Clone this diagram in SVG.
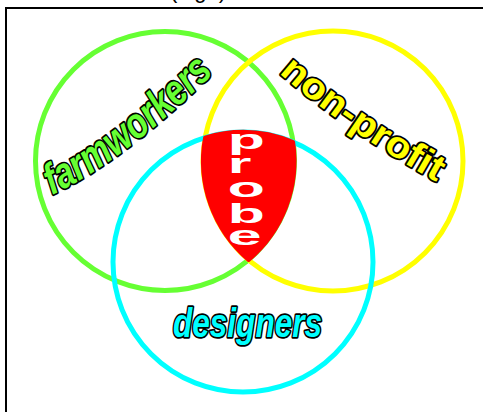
<svg xmlns="http://www.w3.org/2000/svg" width="483" height="412" viewBox="0 0 483 412">
<style>
.ring{fill:none;stroke-width:5}
.lbl{font-family:"Liberation Sans",Arial,sans-serif;font-weight:bold;stroke:#000;stroke-width:3.5;stroke-linejoin:round;paint-order:stroke fill}
.probe{font-family:"Liberation Sans",Arial,sans-serif;font-weight:bold;fill:#fff;font-size:27px}
</style>
<defs>
<path id="fwPath" d="M52,195 Q126,160 220,67"/>
<path id="npPath" d="M279,73 Q348,133 442,185"/>
</defs>
<rect width="483" height="412" fill="#fff"/>
<text x="198" y="-2" font-family="Liberation Sans, Arial, sans-serif" font-size="22" text-anchor="middle" fill="#000">(logo)</text>
<path d="M6,420V8H490" fill="none" stroke="#000" stroke-width="2"/>
<g id="farmworkers">
<circle class="ring" cx="165" cy="161" r="129.5" stroke="#66ff33"/>
</g>
<g id="non-profit">
<circle class="ring" cx="333" cy="161" r="130" stroke="#ffff00"/>
</g>
<g id="designers">
<circle class="ring" cx="243" cy="262" r="130" stroke="#00ffff"/>
</g>
<g id="labels">
<text class="lbl" fill="#66ff33" font-size="43" font-style="italic"><textPath href="#fwPath" textLength="204" lengthAdjust="spacingAndGlyphs">farmworkers</textPath></text>
<text class="lbl" fill="#ffff00" font-size="37"><textPath href="#npPath" textLength="192" lengthAdjust="spacingAndGlyphs">non-profit</textPath></text>
<text class="lbl" fill="#00ffff" font-size="40" font-style="italic" x="173" y="337" textLength="149" lengthAdjust="spacingAndGlyphs">designers</text>
</g>
<g id="probe">
<path d="M205.1,137.6 A130,130 0 0 1 293.1,142 A129.5,129.5 0 0 1 248.6,259.9 A130,130 0 0 1 205.1,137.6 Z" fill="#ff0000" stroke="#ff0000" stroke-width="4" stroke-linejoin="round"/>
<g transform="translate(227.7,0) scale(2.25,1)">
<text class="probe" x="0" y="149">p</text>
<text class="probe" x="0" y="173">r</text>
<text class="probe" x="0" y="197">o</text>
<text class="probe" x="0" y="223">b</text>
<text class="probe" x="0" y="245">e</text>
</g>
</g>
</svg>
